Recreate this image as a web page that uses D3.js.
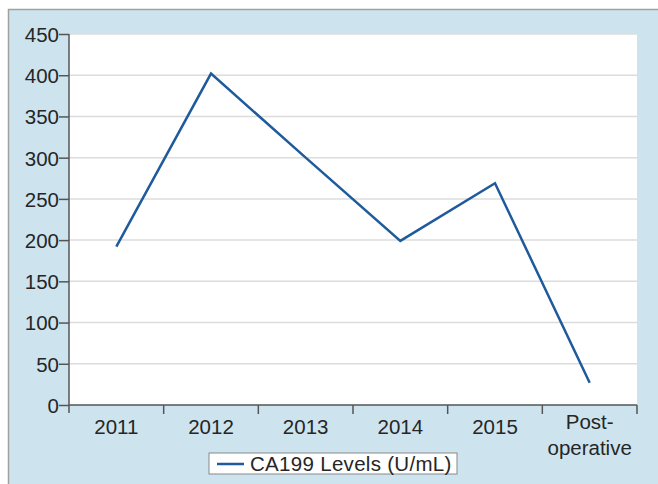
<!DOCTYPE html>
<head>
<meta charset="utf-8">
<style>
body { margin: 0; background: #fff; }
text { font-family: "Liberation Sans", Arial, sans-serif; fill: #262626; }
.grid line { stroke: #dcdcdc; stroke-width: 1.5px; }
.axis path, .axis line { stroke: #555; stroke-width: 1.5px; }
</style>
</head>
<body>
<script src="https://d3js.org/d3.v7.min.js"></script>
<script>
  // chart data
  var categories = ["2011", "2012", "2013", "2014", "2015", "Post-operative"];
  var ca199 = [192, 402, 300, 199, 269, 27];
  var yTicks = [0, 50, 100, 150, 200, 250, 300, 350, 400, 450];
  var seriesName = "CA199 Levels (U/mL)";

  var W = 658, H = 484;
  var plotLeft = 69, plotRight = 637, plotTop = 34, plotBottom = 405;

  var svg = d3.select("body").append("svg")
      .attr("width", W)
      .attr("height", H);

  // blue panel with grey frame on top/left
  svg.append("rect")
      .attr("x", 8.5).attr("y", 9.5)
      .attr("width", W).attr("height", H)
      .style("fill", "#cde4ef")
      .style("stroke", "#a0a0a0")
      .style("stroke-width", 1.5);

  // white plot area
  svg.append("rect")
      .attr("x", plotLeft).attr("y", plotTop)
      .attr("width", plotRight - plotLeft).attr("height", plotBottom - plotTop)
      .style("fill", "#fff");

  var x = d3.scaleBand().domain(categories).range([plotLeft, plotRight]);
  var y = d3.scaleLinear().domain([0, 450]).range([plotBottom, plotTop]);

  // horizontal grid
  svg.append("g")
      .classed("grid", true)
    .selectAll("line")
    .data(yTicks.filter(function (d) { return d > 0; }))
    .enter().append("line")
      .attr("x1", plotLeft).attr("x2", plotRight)
      .attr("y1", function (d) { return y(d); })
      .attr("y2", function (d) { return y(d); });

  // y axis
  var yAxis = svg.append("g")
      .classed("axis", true)
      .attr("transform", "translate(" + plotLeft + ",0)")
      .call(d3.axisLeft(y).tickValues(yTicks).tickSize(10).tickSizeOuter(0).tickPadding(0));
  yAxis.selectAll("text")
      .style("font-size", "20.5px")
      .style("font-family", "'Liberation Sans', Arial, sans-serif")
      .style("fill", "#262626")
      .attr("dy", "0.36em");
  yAxis.select(".domain").remove();
  yAxis.append("line")
      .attr("y1", plotTop).attr("y2", plotBottom + 8);

  // x axis: ticks on category boundaries
  var xAxis = svg.append("g")
      .classed("axis", true)
      .attr("transform", "translate(0," + plotBottom + ")");
  xAxis.append("line")
      .attr("x1", plotLeft).attr("x2", plotRight);
  xAxis.selectAll("line.tk")
    .data(categories)
    .enter().append("line")
      .classed("tk", true)
      .attr("x1", function (d) { return x(d) + x.bandwidth(); })
      .attr("x2", function (d) { return x(d) + x.bandwidth(); })
      .attr("y1", 0).attr("y2", 9);

  var labels = xAxis.selectAll("text.cat")
    .data(categories)
    .enter().append("text")
      .classed("cat", true)
      .attr("x", function (d) { return x(d) + x.bandwidth() / 2; })
      .attr("y", 29)
      .style("font-size", "20.5px")
      .style("text-anchor", "middle");
  labels.each(function (d) {
    var t = d3.select(this);
    if (d === "Post-operative") {
      t.append("tspan").attr("x", t.attr("x")).attr("y", 24).text("Post-");
      t.append("tspan").attr("x", t.attr("x")).attr("y", 50).text("operative");
    } else {
      t.text(d);
    }
  });

  // series line
  var line = d3.line()
      .x(function (d, i) { return x(categories[i]) + x.bandwidth() / 2; })
      .y(function (d) { return y(d); });

  svg.append("path")
      .attr("d", line(ca199))
      .style("fill", "none")
      .style("stroke", "#1f5b9c")
      .style("stroke-width", 2.5);

  // legend
  var lg = svg.append("g").attr("transform", "translate(209,453)");
  lg.append("rect")
      .attr("width", 248).attr("height", 21)
      .style("fill", "#fff")
      .style("stroke", "#888")
      .style("stroke-width", 1);
  lg.append("line")
      .attr("x1", 8).attr("x2", 35).attr("y1", 11).attr("y2", 11)
      .style("stroke", "#1f5b9c")
      .style("stroke-width", 2.5);
  lg.append("text")
      .attr("x", 41).attr("y", 18)
      .style("font-size", "20.5px")
      .style("letter-spacing", "0.3px")
      .text(seriesName);
</script>
</body>
